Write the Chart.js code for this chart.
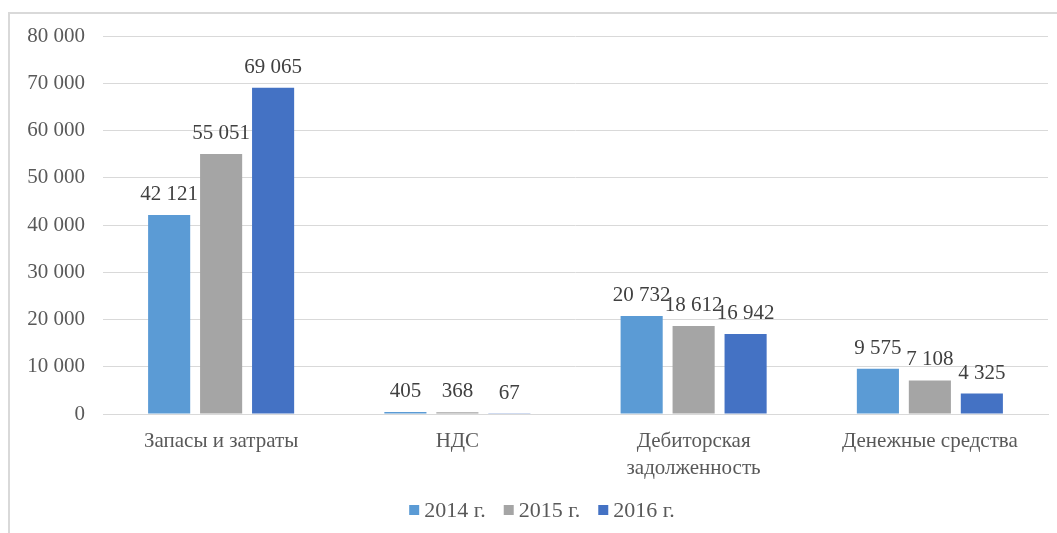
<!DOCTYPE html>
<html>
<head>
<meta charset="utf-8">
<script src="https://cdn.jsdelivr.net/npm/chart.js@4"></script>
<style>
    html, body { margin: 0; padding: 0; background: #ffffff; overflow: hidden; }
    #frame {
        position: absolute; left: 8px; top: 12px;
        width: 1200px; height: 700px;
        border: 2px solid #d9d9d9;
        box-sizing: border-box;
    }
    #wrap { position: absolute; left: 0; top: 0; width: 1057px; height: 533px; }
</style>
</head>
<body>
<div id="frame"></div>
<div id="wrap"><canvas id="assetsChart" width="1057" height="533"></canvas></div>
<script>
const categories = ['Запасы и затраты', 'НДС', ['Дебиторская', 'задолженность'], 'Денежные средства'];
const years = ['2014 г.', '2015 г.', '2016 г.'];
const values2014 = [42121, 405, 20732, 9575];
const values2015 = [55051, 368, 18612, 7108];
const values2016 = [69065, 67, 16942, 4325];
const yTicks = [0, 10000, 20000, 30000, 40000, 50000, 60000, 70000, 80000];
const colors = ['#5B9BD5', '#A5A5A5', '#4472C4'];

const FONT = "'Liberation Serif', 'Times New Roman', serif";

function fmt(v) {
    // thousands separated by a space
    return String(v).replace(/\B(?=(\d{3})+(?!\d))/g, ' ');
}

// draw value labels above each bar
const valueLabels = {
    id: 'valueLabels',
    afterDatasetsDraw(chart) {
        const ctx = chart.ctx;
        ctx.save();
        ctx.font = '21px ' + FONT;
        ctx.fillStyle = '#404040';
        ctx.textAlign = 'center';
        ctx.textBaseline = 'alphabetic';
        chart.data.datasets.forEach((ds, i) => {
            chart.getDatasetMeta(i).data.forEach((bar, j) => {
                ctx.fillText(fmt(ds.data[j]), bar.x, bar.y - 15);
            });
        });
        ctx.restore();
    }
};

// legend drawn by hand so the box-to-text gap matches the original
const bottomLegend = {
    id: 'bottomLegend',
    afterDraw(chart) {
        const ctx = chart.ctx;
        ctx.save();
        ctx.font = '22px ' + FONT;
        ctx.textBaseline = 'middle';
        ctx.textAlign = 'left';
        const box = 10, gap = 5, spacing = 18;
        const widths = years.map(t => ctx.measureText(t).width);
        const total = widths.reduce((a, w) => a + box + gap + w, 0) + spacing * (years.length - 1);
        let x = 542 - total / 2;
        const y = 510;
        years.forEach((t, i) => {
            ctx.fillStyle = colors[i];
            ctx.fillRect(x, y - box / 2, box, box);
            x += box + gap;
            ctx.fillStyle = '#595959';
            ctx.fillText(t, x, y + 1);
            x += widths[i] + spacing;
        });
        ctx.restore();
    }
};

const ctx = document.getElementById('assetsChart').getContext('2d');
const assetsChart = new Chart(ctx, {
    type: 'bar',
    data: {
        labels: categories,
        datasets: years.map((y, i) => ({
            label: y,
            data: [values2014, values2015, values2016][i],
            backgroundColor: colors[i]
        }))
    },
    options: {
        responsive: false,
        animation: false,
        devicePixelRatio: 1,
        layout: { padding: { top: 36, right: 9, bottom: 0, left: 0 } },
        datasets: {
            bar: { categoryPercentage: 0.66, barPercentage: 0.81 }
        },
        scales: {
            y: {
                min: 0,
                max: 80000,
                afterBuildTicks: function(scale) {
                    scale.ticks = yTicks.map(v => ({ value: v }));
                },
                afterFit: function(scale) { scale.width = 103; },
                border: { display: false },
                grid: { color: '#d9d9d9', lineWidth: 1, drawTicks: false },
                ticks: {
                    color: '#595959',
                    padding: 18,
                    font: { family: FONT, size: 21 },
                    callback: function(value) { return fmt(value); }
                }
            },
            x: {
                afterFit: function(scale) { scale.height = 119; },
                border: { color: '#d9d9d9' },
                grid: { display: false },
                ticks: {
                    color: '#595959',
                    padding: 6,
                    maxRotation: 0,
                    autoSkip: false,
                    font: { family: FONT, size: 21, lineHeight: 1.3 }
                }
            }
        },
        plugins: {
            legend: { display: false },
            tooltip: { enabled: false }
        }
    },
    plugins: [valueLabels, bottomLegend]
});
</script>
</body>
</html>
